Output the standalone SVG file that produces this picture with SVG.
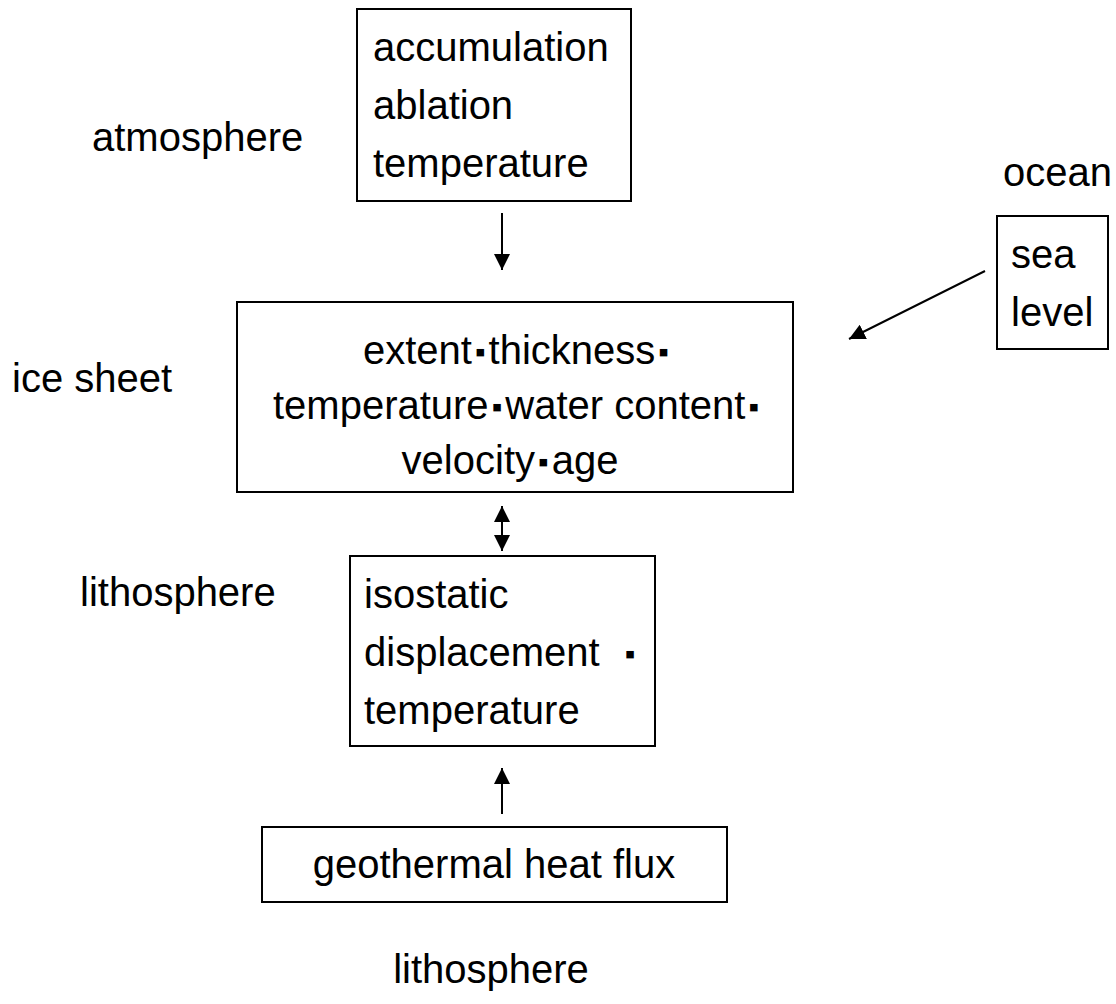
<svg xmlns="http://www.w3.org/2000/svg" width="1116" height="1004" viewBox="0 0 1116 1004">
<style>
  text { font-family: "Liberation Sans", Arial, sans-serif; font-size: 40px; fill: #000; }
  .dot { font-size: 30px; }
  .box { fill: #fff; stroke: #000; stroke-width: 2; }
  .conn { stroke: #000; stroke-width: 2; fill: none; }
  .c { text-anchor: middle; }
</style>
<defs>
  <marker id="ah" viewBox="0 0 16 16" refX="16" refY="8" markerWidth="16" markerHeight="16" markerUnits="userSpaceOnUse" orient="auto-start-reverse">
    <path d="M0,0 L16,8 L0,16 z" fill="#000"/>
  </marker>
</defs>
<rect width="1116" height="1004" fill="#fff"/>

<g id="label-atmosphere"><text x="92" y="151">atmosphere</text></g>
<g id="label-icesheet"><text x="12" y="392">ice sheet</text></g>
<g id="label-lithosphere"><text x="80" y="606">lithosphere</text></g>
<g id="label-ocean"><text x="1003" y="186">ocean</text></g>
<g id="label-lithosphere-bottom"><text class="c" x="491" y="983">lithosphere</text></g>

<g id="atmosphere-box">
  <rect class="box" x="357" y="9" width="274" height="192"/>
  <text x="373" y="61">accumulation</text>
  <text x="373" y="119">ablation</text>
  <text x="373" y="177">temperature</text>
</g>

<g id="ocean-box">
  <rect class="box" x="997" y="216" width="111" height="133"/>
  <text x="1011" y="268">sea</text>
  <text x="1011" y="326">level</text>
</g>

<g id="icesheet-box">
  <rect class="box" x="237" y="302" width="556" height="190"/>
  <text class="c" x="516" y="364">extent<tspan class="dot" dx="3" dy="-2">▪</tspan><tspan dx="3" dy="2">thickness</tspan><tspan class="dot" dx="3" dy="-2">▪</tspan></text>
  <text class="c" x="516" y="419">temperature<tspan class="dot" dx="3" dy="-2">▪</tspan><tspan dx="3" dy="2">water content</tspan><tspan class="dot" dx="3" dy="-2">▪</tspan></text>
  <text class="c" x="510" y="474">velocity<tspan class="dot" dx="3" dy="-2">▪</tspan><tspan dx="3" dy="2">age</tspan></text>
</g>

<g id="lithosphere-box">
  <rect class="box" x="350" y="556" width="305" height="190"/>
  <text x="364" y="608">isostatic</text>
  <text x="364" y="666">displacement <tspan class="dot" dx="14" dy="-2">▪</tspan></text>
  <text x="364" y="724">temperature</text>
</g>

<g id="geothermal-box">
  <rect class="box" x="262" y="827" width="465" height="75"/>
  <text class="c" x="494" y="878">geothermal heat flux</text>
</g>

<g id="connectors">
  <line class="conn" x1="502" y1="213" x2="502" y2="270" marker-end="url(#ah)"/>
  <line class="conn" x1="985" y1="271" x2="849" y2="339" marker-end="url(#ah)"/>
  <line class="conn" x1="502" y1="506" x2="502" y2="551" marker-start="url(#ah)" marker-end="url(#ah)"/>
  <line class="conn" x1="502" y1="814" x2="502" y2="768" marker-end="url(#ah)"/>
</g>
</svg>
